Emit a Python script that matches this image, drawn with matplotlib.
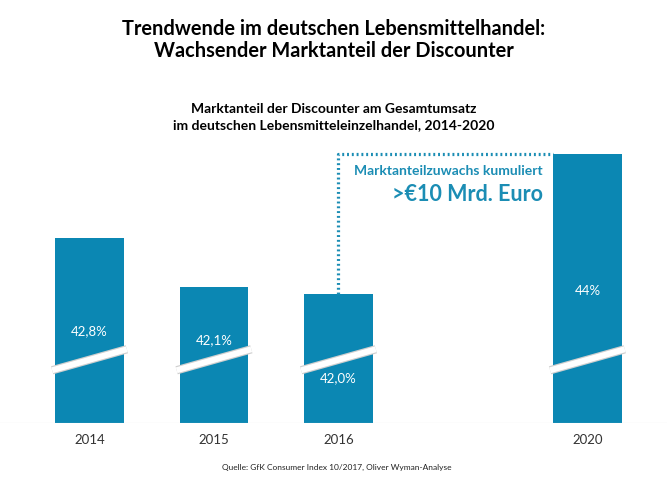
import matplotlib as m
m.use("Agg")
import matplotlib.pyplot as plt

years = ["2014", "2015", "2016", "2020"]
positions = [0, 1, 2, 4]
shares = [42.8, 42.1, 42.0, 44.0]
labels = ["42,8%", "42,1%", "42,0%", "44%"]
label_values = [41.47, 41.34, 40.8, 42.04]

BLUE = "#0b87b3"
TEAL = "#1b8db4"
base = 40.157
brk = 41.06

plt.rcParams['font.family'] = ['Lato', 'DejaVu Sans']

fig = plt.figure(figsize=(6.67, 5.01), dpi=100)
ax = fig.add_axes([0.0, 0.1557, 1.0, 0.565])

width = 0.554
ax.bar(positions, [v - base for v in shares], bottom=base, width=width, color=BLUE)

# break marks
for p in positions:
    xs = [p - 0.3, p + 0.3]
    ys = [brk - 0.15, brk + 0.15]
    ax.plot(xs, ys, color="#cfcfcf", lw=6.0, solid_capstyle="butt", zorder=3)
    ax.plot(xs, ys, color="white", lw=4.3, solid_capstyle="butt", zorder=4)

for p, v, t in zip(positions, label_values, labels):
    ax.text(p, v, t, color="white", ha="center", va="center", fontsize=9.5, zorder=5)

# dotted bracket from 2016 to 2020
ax.plot([positions[2], positions[2], positions[3] - width / 2],
        [shares[2], shares[3], shares[3]],
        color=TEAL, lw=2.3, ls=(0, (0.6, 0.9)), zorder=2)

ax.text(positions[3] - width / 2 - 0.08, 43.75, "Marktanteilzuwachs kumuliert",
        color=TEAL, ha="right", va="center", fontsize=10, fontweight="bold")
ax.text(positions[3] - width / 2 - 0.08, 43.42, ">€10 Mrd. Euro",
        color=TEAL, ha="right", va="center", fontsize=15.5, fontweight="bold")

ax.set_xlim(-0.719, 4.639)
ax.set_ylim(base, base + 283 / 70)
ax.set_xticks(positions)
ax.set_xticklabels(years, fontsize=9.5, color="#333333")
ax.tick_params(axis="x", length=0, pad=8)
ax.set_yticks([])
for s in ax.spines.values():
    s.set_visible(False)
ax.axhline(base, color="#d0d0d0", lw=0.8, zorder=1)

fig.text(0.5, 0.92, "Trendwende im deutschen Lebensmittelhandel:\nWachsender Marktanteil der Discounter",
         ha="center", va="center", fontsize=14.4, fontweight="bold", linespacing=1.15)
fig.text(0.5, 0.767, "Marktanteil der Discounter am Gesamtumsatz\nim deutschen Lebensmitteleinzelhandel, 2014-2020",
         ha="center", va="center", fontsize=10, fontweight="bold", linespacing=1.4)
fig.text(0.505, 0.067, "Quelle: GfK Consumer Index 10/2017, Oliver Wyman-Analyse",
         ha="center", va="center", fontsize=6.0, color="#222222")

fig.savefig("out.png", dpi=100)
